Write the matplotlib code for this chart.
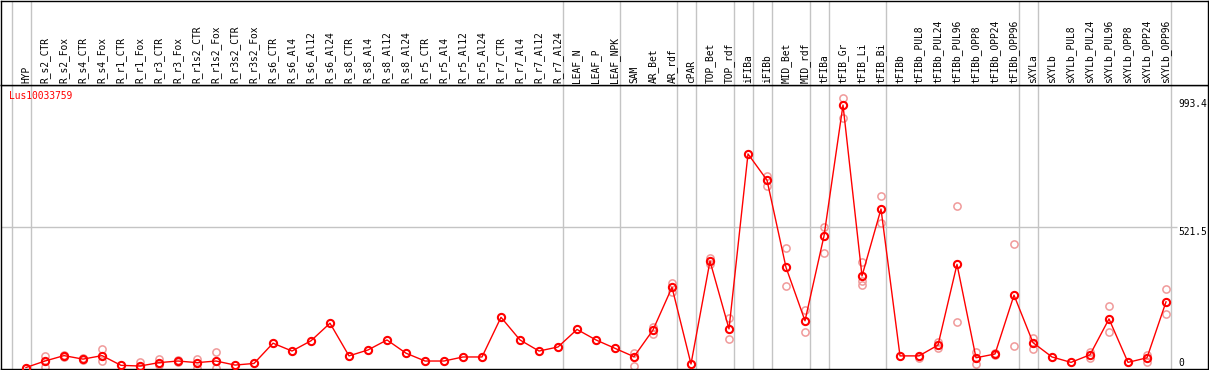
import matplotlib
matplotlib.use("Agg")
import matplotlib.pyplot as plt

# ---------------- data ----------------
gene = "Lus10033759"
categories = ["HYP", "R_s2_CTR", "R_s2_Fox", "R_s4_CTR", "R_s4_Fox", "R_r1_CTR", "R_r1_Fox",
              "R_r3_CTR", "R_r3_Fox", "R_r1s2_CTR", "R_r1s2_Fox", "R_r3s2_CTR", "R_r3s2_Fox",
              "R_s6_CTR", "R_s6_Al4", "R_s6_Al12", "R_s6_Al24", "R_s8_CTR", "R_s8_Al4",
              "R_s8_Al12", "R_s8_Al24", "R_r5_CTR", "R_r5_Al4", "R_r5_Al12", "R_r5_Al24",
              "R_r7_CTR", "R_r7_Al4", "R_r7_Al12", "R_r7_Al24", "LEAF_N", "LEAF_P", "LEAF_NPK",
              "SAM", "AR_Bet", "AR_rdf", "cPAR", "TOP_Bet", "TOP_rdf", "iFIBa", "iFIBb",
              "MID_Bet", "MID_rdf", "tFIBa", "tFIB_Gr", "tFIB_Li", "tFIB_Bi", "tFIBb",
              "tFIBb_PUL8", "tFIBb_PUL24", "tFIBb_PUL96", "tFIBb_OPP8", "tFIBb_OPP24",
              "tFIBb_OPP96", "sXYLa", "sXYLb", "sXYLb_PUL8", "sXYLb_PUL24", "sXYLb_PUL96",
              "sXYLb_OPP8", "sXYLb_OPP24", "sXYLb_OPP96"]

means = [0, 24, 44, 31, 44, 8, 5.5, 18, 24, 18, 24, 9, 15,
         90, 61, 99, 164, 43, 65, 102, 53, 24, 24, 39, 39,
         186, 102, 61, 76, 141, 102, 71,
         40, 139, 297, 13, 394, 143, 791, 694,
         371, 173, 487, 972, 339, 587, 43,
         43, 83, 382, 36, 50, 268, 92, 39, 19, 47, 180, 19, 36, 243]

replicates = [[], [43, 3], [40, 48], [28, 34], [68, 24], [], [21, 0],
              [30, 9], [20, 28], [30, 0], [56, 0], [], [],
              [], [], [], [], [], [], [], [], [], [], [], [],
              [], [], [], [], [], [], [],
              [55, 5], [149, 124], [314, 281], [], [404, 384], [182, 105], [], [709, 672],
              [441, 302], [213, 130], [521, 423], [997, 923], [391, 320, 305], [634, 537], [],
              [34], [96, 71], [598, 167], [58, 13], [55, 45], [457, 80], [108, 67], [], [],
              [56, 34], [227, 131], [], [46, 21], [290, 198]]

# index of the last category in each group (group separators drawn after them)
group_ends = [-1, 0, 28, 31, 34, 35, 37, 38, 39, 41, 42, 45, 52, 53, 60]

y_max_label = 993.4
y_mid_label = 521.5

# ---------------- layout ----------------
W, H = 1209, 370
fig = plt.figure(figsize=(W / 100, H / 100), dpi=100)
mono = "DejaVu Sans Mono"
fs = 6.9

xl = ((0.5 - 26) / 19, (1207.5 - 26) / 19)
ax = fig.add_axes([0.5 / W, (H - 369) / H, 1207 / W, (369 - 85) / H])
axh = fig.add_axes([0.5 / W, (H - 85) / H, 1207 / W, (85 - 0.5) / H])

for a in (ax, axh):
    a.set_xlim(*xl)
    a.set_xticks([])
    a.set_yticks([])
    for s in a.spines.values():
        s.set_linewidth(1.0)
        s.set_color("black")
    for g in group_ends:
        a.axvline(g + 0.25, color="#c4c4c4", lw=1.0, zorder=0)

ax.set_ylim((367.5 - 369) / 0.27, (367.5 - 85) / 0.27)
axh.set_ylim(0, 1)

# horizontal mid grid line
label_x = (1178 - 26) / 19
ax.hlines(y_mid_label, xl[0], label_x - 0.05, color="#c4c4c4", lw=1.0, zorder=0)

# replicates
for i, reps in enumerate(replicates):
    if reps:
        ax.plot([i] * len(reps), reps, linestyle="none", marker="o", ms=5.2,
                mfc="none", mec="#f09a9a", mew=1.1, zorder=2)

# mean line + markers
xs = list(range(len(means)))
ax.plot(xs, means, color="#ff0000", lw=1.0, zorder=3)
ax.plot(xs, means, linestyle="none", marker="o", ms=5.2, mfc="none",
        mec="#ff0000", mew=1.5, zorder=4)

# header labels
for i, c in enumerate(categories):
    axh.text(i, 0.025, c, rotation=90, ha="center", va="bottom",
             fontsize=fs, family=mono, color="black")

# gene name
ax.annotate(gene, xy=(0, 1), xycoords="axes fraction", xytext=(8, -6),
            textcoords="offset pixels", ha="left", va="top",
            fontsize=fs, family=mono, color="#ff0000")

# value labels on the right
ax.text(label_x, y_max_label, f"{y_max_label}", ha="left", va="top",
        fontsize=fs, family=mono, color="black", clip_on=False)
ax.text(label_x, y_mid_label, f"{y_mid_label}", ha="left", va="top",
        fontsize=fs, family=mono, color="black", clip_on=False)
ax.text(label_x, 0, "0", ha="left", va="bottom",
        fontsize=fs, family=mono, color="black")

fig.savefig("out.png", dpi=100)
